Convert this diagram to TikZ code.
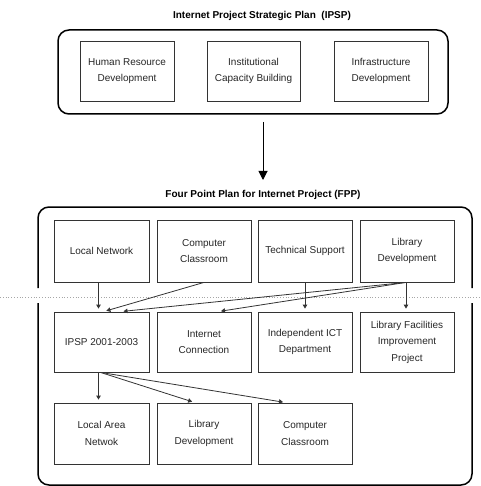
\documentclass[tikz,border=0pt]{standalone}
\usepackage{fontspec}
\setmainfont{Liberation Sans}
\usetikzlibrary{arrows.meta,calc}
\begin{document}
\begin{tikzpicture}[x=1pt,y=-1pt,
  planbox/.style={draw=black!80,line width=0.8pt,rectangle,align=center,
    font=\fontsize{10}{16.5}\selectfont,text=black!85,inner sep=2pt},
  frame/.style={draw=black,line width=1.5pt,rounded corners=11pt},
  title/.style={font=\bfseries\fontsize{10}{12}\selectfont},
  link/.style={draw=black!80,line width=0.8pt,-{Triangle[length=4pt,width=4.5pt]},shorten >=3pt},
  bigarrow/.style={draw=black,line width=1pt,-{Triangle[length=9pt,width=9pt]}}]
\useasboundingbox (0,0) rectangle (480,486);

% Strategic plan
\node[title] (t1) at (262,16) {Internet Project Strategic Plan\ \ (IPSP)};
\draw[frame] (58,30) rectangle (448,114);
\node[planbox,minimum width=94pt,minimum height=60pt] (hrd) at (127,71) {Human Resource\\Development};
\node[planbox,minimum width=93pt,minimum height=60pt] (icb) at (253.5,71) {Institutional\\Capacity Building};
\node[planbox,minimum width=94pt,minimum height=60pt] (infra) at (381,71) {Infrastructure\\Development};

\coordinate (a0) at (263,122);
\coordinate (a1) at (263,180);
\draw[bigarrow] (a0) -- (a1);

% Four point plan
\node[title] (t2) at (263,195) {Four Point Plan for Internet Project (FPP)};
\draw[frame] (38,288) -- (38,207) -- (472,207) -- (472,288);
\draw[frame] (472,303) -- (472,485) -- (38,485) -- (38,303);
\draw[black!35,line width=0.8pt,dotted] (0,297) -- (480,297);

\node[planbox,minimum width=95pt,minimum height=62pt] (ln) at (101.5,251) {Local Network};
\node[planbox,minimum width=94pt,minimum height=62pt] (cc) at (204,251) {Computer\\Classroom};
\node[planbox,minimum width=94pt,minimum height=62pt] (ts) at (305,251) {Technical Support};
\node[planbox,minimum width=94pt,minimum height=62pt] (ld) at (407,251) {Library\\Development};

\node[planbox,minimum width=95pt,minimum height=60pt] (ipsp) at (101.5,342) {IPSP 2001-2003};
\node[planbox,minimum width=94pt,minimum height=60pt] (ic) at (204,342) {Internet\\Connection};
\node[planbox,minimum width=94pt,minimum height=60pt] (ict) at (305,342) {Independent ICT\\Department};
\node[planbox,minimum width=94pt,minimum height=60pt] (lfip) at (407,342) {Library Facilities\\Improvement\\Project};

\node[planbox,minimum width=95pt,minimum height=61pt] (lan) at (101.5,433.5) {Local Area\\Netwok};
\node[planbox,minimum width=94pt,minimum height=61pt] (ld2) at (204,433.5) {Library\\Development};
\node[planbox,minimum width=94pt,minimum height=61pt] (cc2) at (305,433.5) {Computer\\Classroom};

% Links between the rows
\draw[link] ($(ln.south)+(-3,0)$) -- ($(ipsp.north)+(-3,0)$);
\draw[link] ($(cc.south)+(0,0)$) -- ($(ipsp.north)+(2,0)$);
\draw[link] ($(ld.south)+(-1,0)$) -- ($(ipsp.north)+(19,0)$);
\draw[link] ($(ld.south)+(-1,0)$) -- ($(ic.north)+(14,0)$);
\draw[link] ($(ld.south)+(-1,0)$) -- ($(lfip.north)+(-1,0)$);
\draw[link] (ts.south) -- (ict.north);

\draw[link] ($(ipsp.south)+(-3,0)$) -- ($(lan.north)+(-3,0)$);
\draw[link] ($(ipsp.south)+(-1,0)$) -- ($(ld2.north)+(-9,0)$);
\draw[link] ($(ipsp.south)+(-1,0)$) -- ($(cc2.north)+(-19,0)$);
\end{tikzpicture}
\end{document}
